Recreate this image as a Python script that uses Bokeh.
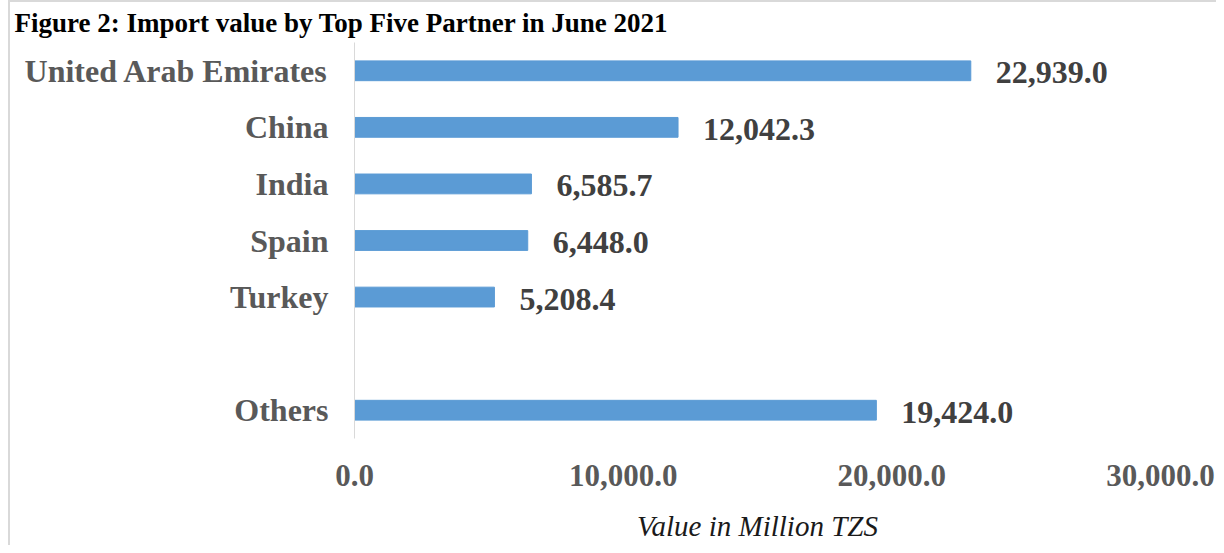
from bokeh.plotting import figure
from bokeh.models import (FactorRange, Range1d, FixedTicker, NumeralTickFormatter,
                          LabelSet, ColumnDataSource)
from bokeh.embed import file_html
from bokeh.resources import INLINE

# ---- data ----
partners = ["United Arab Emirates", "China", "India", "Spain", "Turkey", "Others"]
values = [22939.0, 12042.3, 6585.7, 6448.0, 5208.4, 19424.0]
value_labels = ["22,939.0", "12,042.3", "6,585.7", "6,448.0", "5,208.4", "19,424.0"]
factor_order = ["Others", " ", "Turkey", "Spain", "India", "China", "United Arab Emirates"]
x_ticks = [0, 10000, 20000, 30000]
title_text = "Figure 2: Import value by Top Five Partner in June 2021"
x_title = "Value in Million TZS"

# ---- layout (canvas pixels) ----
W, H = 1216, 545
FL, FR, FT, FB = 354, 1160, 42, 438
XMAX = 30000

p = figure(width=W, height=H, y_range=FactorRange(*factor_order),
           x_range=Range1d(0, XMAX), output_backend="svg", toolbar_location=None,
           min_border_left=FL, min_border_right=W - FR, min_border_top=FT,
           min_border_bottom=H - FB)
p.outline_line_color = None
p.background_fill_color = None
p.border_fill_color = None
p.xgrid.grid_line_color = None
p.ygrid.grid_line_color = None

p.title.text = title_text
p.title.align = "left"
p.title.offset = -FL + 14
p.title.standoff = 9
p.title.text_font = "Liberation Serif"
p.title.text_font_style = "bold"
p.title.text_font_size = "27px"
p.title.text_color = "#000000"

src = ColumnDataSource(dict(p=partners, v=values, t=value_labels))
p.hbar(y="p", right="v", left=0, height=0.35, source=src, color="#5b9bd5")

FONT = "Liberation Serif"
p.yaxis.axis_line_color = "#d9d9d9"
p.yaxis.major_tick_line_color = None
p.yaxis.minor_tick_line_color = None
p.yaxis.major_tick_out = 0
p.yaxis.major_label_standoff = 26
p.yaxis.major_label_text_font = FONT
p.yaxis.major_label_text_font_style = "bold"
p.yaxis.major_label_text_font_size = "32px"
p.yaxis.major_label_text_color = "#595959"

p.xaxis.axis_line_color = None
p.xaxis.major_tick_line_color = None
p.xaxis.minor_tick_line_color = None
p.xaxis.major_tick_out = 0
p.xaxis.ticker = FixedTicker(ticks=x_ticks)
p.xaxis.formatter = NumeralTickFormatter(format="0,0.0")
p.xaxis.major_label_standoff = 26
p.xaxis.major_label_text_font = FONT
p.xaxis.major_label_text_font_style = "bold"
p.xaxis.major_label_text_font_size = "31px"
p.xaxis.major_label_text_color = "#595959"
p.xaxis.axis_label = x_title
p.xaxis.axis_label_standoff = 21
p.xaxis.axis_label_text_font = FONT
p.xaxis.axis_label_text_font_style = "italic"
p.xaxis.axis_label_text_font_size = "29px"
p.xaxis.axis_label_text_color = "#1a1a1a"

labels = LabelSet(x="v", y="p", text="t", source=src, x_offset=25, y_offset=-2,
                  text_baseline="middle", text_font=FONT, text_font_style="bold",
                  text_font_size="32px", text_color="#404040")
p.add_layout(labels)

line = "linear-gradient(#d9d9d9, #d9d9d9)"
p.styles = {
    "background": f"{line} 8px 0px / 2px 100% no-repeat, {line} 8px 0px / 100% 2px no-repeat, #ffffff",
}

open("out.html", "w").write(file_html(p, INLINE))
